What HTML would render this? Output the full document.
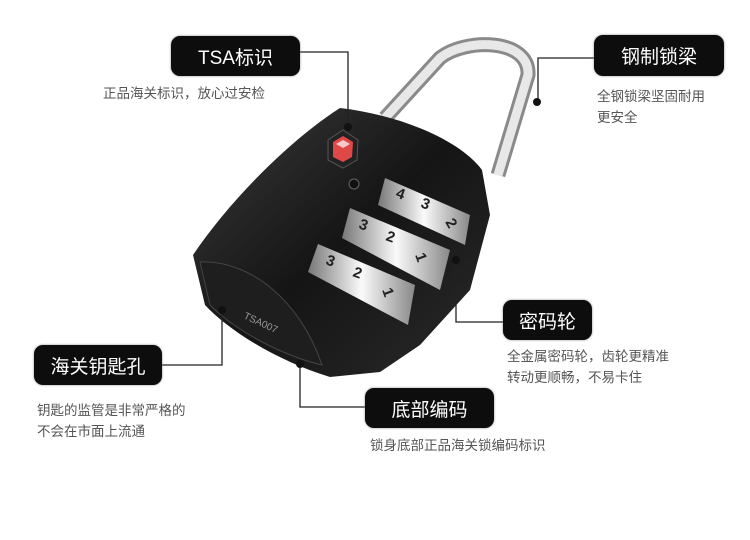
<!DOCTYPE html>
<html><head><meta charset="utf-8"><style>
body{margin:0;width:750px;height:540px;background:#fff;position:relative;overflow:hidden;font-family:"Liberation Sans","Noto Sans CJK SC",sans-serif}
.b{position:absolute;background:#0d0d0d;color:#fff;border-radius:9px;font-size:19px;display:flex;align-items:center;justify-content:center;box-shadow:0 0 2px #888}
.d{position:absolute;color:#555;font-size:13.5px;line-height:21px}
svg{position:absolute;left:0;top:0}
</style></head><body>
<svg width="750" height="540">
<defs>
<linearGradient id="bd" x1="0" y1="0" x2="1" y2="1"><stop offset="0" stop-color="#3a3a3a"/><stop offset=".5" stop-color="#151515"/><stop offset="1" stop-color="#2a2a2a"/></linearGradient>
<linearGradient id="w" x1="0" x2="1"><stop offset="0" stop-color="#777"/><stop offset=".5" stop-color="#fafafa"/><stop offset="1" stop-color="#888"/></linearGradient>
</defs>
<path d="M385,118 L440,58 C465,38 530,38 528,75 L498,175" fill="none" stroke="#8a8a8a" stroke-width="15" stroke-linejoin="round"/>
<path d="M385,118 L440,58 C465,38 530,38 528,75 L498,175" fill="none" stroke="#e8e8e8" stroke-width="9" stroke-linejoin="round"/>
<path d="M340,108 C400,115 460,140 482,170 L490,215 L470,290 L420,345 L380,372 L330,377 C280,362 230,332 205,305 L193,255 C230,200 290,140 340,108 Z" fill="url(#bd)"/>
<path d="M200,262 C250,260 300,300 322,365 C280,355 235,330 210,305 Z" fill="#1e1e1e" stroke="#444"/>
<polygon points="343,130 358,140 357,160 343,168 328,160 328,140" fill="#222" stroke="#555"/>
<polygon points="343,136 353,142 352,157 343,162 333,157 333,142" fill="#e04848"/>
<polygon points="343,140 350,144 343,148 336,144" fill="#fff" opacity=".7"/>
<circle cx="354" cy="184" r="5" fill="#111" stroke="#666"/>
<g font-family="Liberation Sans" font-weight="bold" font-size="15" fill="#222">
<polygon points="385,178 470,215 465,245 378,205" fill="url(#w)"/><text x="395" y="197" transform="rotate(20 395 197)">4</text><text x="420" y="207" transform="rotate(20 420 207)">3</text><text x="445" y="222" transform="rotate(60 445 222)">2</text>
<polygon points="350,208 450,250 440,290 342,238" fill="url(#w)"/><text x="358" y="228" transform="rotate(20 358 228)">3</text><text x="385" y="240" transform="rotate(20 385 240)">2</text><text x="415" y="255" transform="rotate(70 415 255)">1</text>
<polygon points="318,244 415,285 408,325 308,272" fill="url(#w)"/><text x="325" y="264" transform="rotate(20 325 264)">3</text><text x="352" y="276" transform="rotate(20 352 276)">2</text><text x="382" y="290" transform="rotate(70 382 290)">1</text>
</g>
<text x="243" y="318" font-size="10" fill="#999" transform="rotate(25 243 318)" font-family="Liberation Sans">TSA007</text>
<g stroke="#222" stroke-width="1.3" fill="none">
<polyline points="300,52 348,52 348,125"/>
<polyline points="594,58 538,58 538,100"/>
<polyline points="503,322 456,322 456,262"/>
<polyline points="162,365 222,365 222,312"/>
<polyline points="365,407 300,407 300,365"/>
</g>
<g fill="#111"><circle cx="348" cy="127" r="4"/><circle cx="537" cy="102" r="4"/><circle cx="456" cy="260" r="4"/><circle cx="222" cy="310" r="4"/><circle cx="300" cy="364" r="4"/></g>
</svg>
<div class="b" style="left:171px;top:36px;width:129px;height:40px">TSA标识</div>
<div class="d" style="left:103px;top:83px">正品海关标识，放心过安检</div>
<div class="b" style="left:594px;top:35px;width:130px;height:41px">钢制锁梁</div>
<div class="d" style="left:597px;top:86px">全钢锁梁坚固耐用<br>更安全</div>
<div class="b" style="left:503px;top:300px;width:89px;height:40px">密码轮</div>
<div class="d" style="left:507px;top:346px">全金属密码轮，齿轮更精准<br>转动更顺畅，不易卡住</div>
<div class="b" style="left:34px;top:345px;width:128px;height:40px">海关钥匙孔</div>
<div class="d" style="left:37px;top:400px">钥匙的监管是非常严格的<br>不会在市面上流通</div>
<div class="b" style="left:365px;top:388px;width:129px;height:40px">底部编码</div>
<div class="d" style="left:370px;top:435px">锁身底部正品海关锁编码标识</div>
</body></html>
